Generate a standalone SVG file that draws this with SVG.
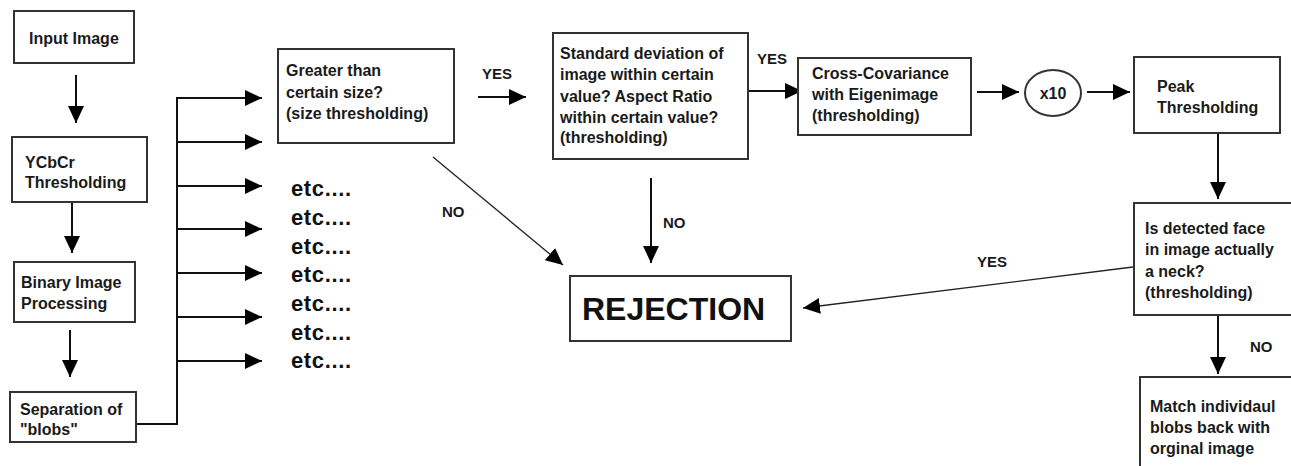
<svg xmlns="http://www.w3.org/2000/svg" width="1291" height="466" viewBox="0 0 1291 466">
<style>
.box{fill:#fff;stroke:#333;stroke-width:2}
.t{font-family:"Liberation Sans",Arial,sans-serif;font-weight:bold;font-size:16px;fill:#1a1a1a}
.lbl{font-family:"Liberation Sans",Arial,sans-serif;font-weight:bold;font-size:15px;fill:#1a1a1a}
.etc{font-family:"Liberation Sans",Arial,sans-serif;font-weight:bold;font-size:22px;fill:#111}
.ln{fill:none;stroke:#111;stroke-width:2}
.thin{fill:none;stroke:#222;stroke-width:1.3}
</style>
<defs>
<marker id="ah" markerUnits="userSpaceOnUse" markerWidth="17" markerHeight="16" refX="17" refY="8" orient="auto">
<path d="M0,0 L17,8 L0,16 z" fill="#000"/>
</marker>
</defs>
<rect width="1291" height="466" fill="#fff"/>

<g id="connectors">
<line class="ln" x1="76" y1="75" x2="76" y2="123" marker-end="url(#ah)"/>
<line class="ln" x1="72" y1="203" x2="72" y2="253" marker-end="url(#ah)"/>
<line class="ln" x1="70" y1="330" x2="70" y2="377" marker-end="url(#ah)"/>
<polyline class="ln" points="136,424 177,424 177,97"/>
<line class="ln" x1="177" y1="98" x2="262" y2="98" marker-end="url(#ah)"/>
<line class="ln" x1="177" y1="142" x2="262" y2="142" marker-end="url(#ah)"/>
<line class="ln" x1="177" y1="186" x2="262" y2="186" marker-end="url(#ah)"/>
<line class="ln" x1="177" y1="229" x2="262" y2="229" marker-end="url(#ah)"/>
<line class="ln" x1="177" y1="273" x2="262" y2="273" marker-end="url(#ah)"/>
<line class="ln" x1="177" y1="317" x2="262" y2="317" marker-end="url(#ah)"/>
<line class="ln" x1="177" y1="361" x2="262" y2="361" marker-end="url(#ah)"/>
<line class="ln" x1="478" y1="97" x2="526" y2="97" marker-end="url(#ah)"/>
<line class="thin" x1="433" y1="157" x2="563" y2="265" marker-end="url(#ah)"/>
<line class="ln" x1="748" y1="91" x2="802" y2="91" marker-end="url(#ah)"/>
<line class="ln" x1="651" y1="178" x2="651" y2="263" marker-end="url(#ah)"/>
<line class="ln" x1="977" y1="92" x2="1019" y2="92" marker-end="url(#ah)"/>
<line class="ln" x1="1087" y1="92" x2="1130" y2="92" marker-end="url(#ah)"/>
<line class="ln" x1="1218" y1="133" x2="1218" y2="199" marker-end="url(#ah)"/>
<line class="thin" x1="1133" y1="267" x2="803" y2="308" marker-end="url(#ah)"/>
<line class="ln" x1="1218" y1="315" x2="1218" y2="374" marker-end="url(#ah)"/>
</g>

<g id="labels">
<text class="lbl" x="482" y="79">YES</text>
<text class="lbl" x="757" y="64">YES</text>
<text class="lbl" x="977" y="267">YES</text>
<text class="lbl" x="442" y="217">NO</text>
<text class="lbl" x="663" y="228">NO</text>
<text class="lbl" x="1250" y="352">NO</text>
</g>

<g id="etc">
<text class="etc" x="291" y="196" textLength="60">etc....</text>
<text class="etc" x="291" y="225" textLength="60">etc....</text>
<text class="etc" x="291" y="254" textLength="60">etc....</text>
<text class="etc" x="291" y="282" textLength="60">etc....</text>
<text class="etc" x="291" y="311" textLength="60">etc....</text>
<text class="etc" x="291" y="340" textLength="60">etc....</text>
<text class="etc" x="291" y="368" textLength="60">etc....</text>
</g>

<g id="input">
<rect class="box" x="14" y="11" width="120" height="52"/>
<text class="t" x="29" y="44">Input Image</text>
</g>
<g id="ycbcr">
<rect class="box" x="12" y="137" width="135" height="65"/>
<text class="t" x="25" y="168">YCbCr</text>
<text class="t" x="25" y="188">Thresholding</text>
</g>
<g id="binary">
<rect class="box" x="14" y="262" width="121" height="60"/>
<text class="t" x="21" y="288">Binary Image</text>
<text class="t" x="21" y="309">Processing</text>
</g>
<g id="separation">
<rect class="box" x="10" y="392" width="126" height="50"/>
<text class="t" x="20" y="415">Separation of</text>
<text class="t" x="20" y="435">"blobs"</text>
</g>
<g id="size">
<rect class="box" x="278" y="49" width="176" height="94"/>
<text class="t" x="286" y="76">Greater than</text>
<text class="t" x="286" y="98">certain size?</text>
<text class="t" x="286" y="119">(size thresholding)</text>
</g>
<g id="stddev">
<rect class="box" x="553" y="33" width="195" height="126"/>
<text class="t" x="560" y="59">Standard deviation of</text>
<text class="t" x="560" y="80">image within certain</text>
<text class="t" x="560" y="102">value? Aspect Ratio</text>
<text class="t" x="560" y="123">within certain value?</text>
<text class="t" x="560" y="143">(thresholding)</text>
</g>
<g id="crosscov">
<rect class="box" x="798" y="58" width="173" height="77"/>
<text class="t" x="812" y="79">Cross-Covariance</text>
<text class="t" x="812" y="100">with Eigenimage</text>
<text class="t" x="812" y="121">(thresholding)</text>
</g>
<g id="x10">
<ellipse cx="1053" cy="93" rx="28" ry="23" fill="#fff" stroke="#333" stroke-width="2"/>
<text class="t" x="1053" y="99" text-anchor="middle">x10</text>
</g>
<g id="peak">
<rect class="box" x="1134" y="57" width="146" height="76"/>
<text class="t" x="1157" y="92">Peak</text>
<text class="t" x="1157" y="113">Thresholding</text>
</g>
<g id="neck">
<rect class="box" x="1134" y="203" width="162" height="112"/>
<text class="t" x="1145" y="234">Is detected face</text>
<text class="t" x="1145" y="255">in image actually</text>
<text class="t" x="1145" y="277">a neck?</text>
<text class="t" x="1145" y="298">(thresholding)</text>
</g>
<g id="match">
<rect class="box" x="1140" y="377" width="156" height="100"/>
<text class="t" x="1150" y="412">Match individaul</text>
<text class="t" x="1150" y="433">blobs back with</text>
<text class="t" x="1150" y="454">orginal image</text>
</g>
<g id="rejection">
<rect class="box" x="570" y="276" width="221" height="65"/>
<text x="582" y="320" style="font-family:'Liberation Sans',Arial,sans-serif;font-weight:bold;font-size:32px;fill:#111">REJECTION</text>
</g>
</svg>
